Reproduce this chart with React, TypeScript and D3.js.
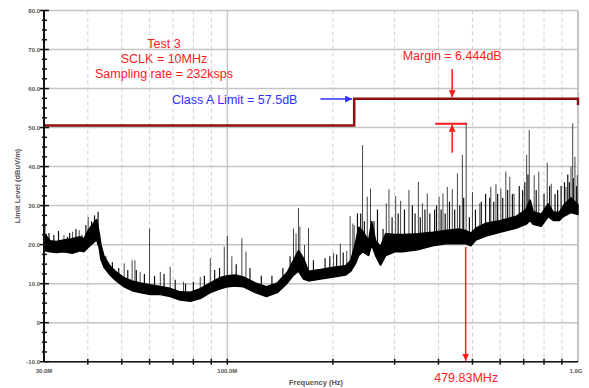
import React, { useRef, useEffect } from "react";
import * as d3 from "d3";

// limit line (MHz, dBuV/m)
const limitFreqs = [30, 230, 230, 1000, 1000];
const limitLevels = [50.5, 50.5, 57.4, 57.4, 55.8];

// noise floor envelope
const bandFreqs = [30, 31.2, 32.5, 34.2, 36.1, 38, 39, 40, 41.1, 42.4, 43.1, 43.6, 44.5, 46.3, 48.2, 50.8, 53.5, 56.4, 60.3, 64.4, 68.7, 73.4, 78.4, 83.7, 89.4, 95.5, 100, 105.4, 111.1, 120.2, 129.2, 138.9, 148.4, 154.4, 159.5, 164.9, 170.4, 184.3, 200.9, 217.3, 225, 232.1, 237, 243, 252.9, 258, 264.7, 273.4, 282.7, 302, 316.2, 349, 385, 419.4, 457, 478.6, 495, 511.4, 546.4, 602.6, 664.6, 710.4, 730, 744.7, 785.2, 822.7, 850.4, 884.9, 908.8, 955, 1000];
const bandLow = [18.5, 18.2, 18, 18.2, 17.8, 18.4, 18.2, 19.2, 20.2, 21.2, 19.2, 16.2, 14.2, 12.2, 10.7, 9.2, 8.2, 7.7, 7.2, 7.2, 6.7, 5.8, 5.5, 6.2, 7.7, 8.7, 9.2, 9.4, 9.2, 7.7, 6.7, 7.7, 10.2, 12.2, 13.2, 11.2, 10.7, 11.2, 11.7, 12.2, 13.2, 15.2, 17.2, 18.2, 17.2, 20, 17.2, 14.7, 17.2, 18.2, 18.2, 18.7, 19.7, 20.2, 20.2, 20.2, 19.7, 21.2, 22.2, 23.2, 24.2, 25.2, 26.2, 25.2, 24.7, 27.2, 26.2, 26.2, 27.2, 28.2, 27.7];
const bandHigh = [23, 21, 20.8, 21.2, 21.5, 22, 21.5, 23.5, 25, 26.5, 23, 20, 17, 14.5, 13, 11.5, 10.7, 10.2, 9.7, 9.3, 8.8, 7.9, 7.8, 8.7, 10.2, 11.6, 12, 12.2, 11.7, 10.2, 9.2, 10.2, 13, 16, 18.5, 16.5, 13.2, 13.6, 14.2, 14.6, 16, 20.5, 24.5, 23.5, 21, 26, 21, 19.5, 22.8, 22.6, 22.6, 22.8, 23.2, 23.6, 24, 23.6, 23, 24.2, 25.5, 26.2, 27.2, 29, 31.5, 28.5, 27.8, 30.5, 28.3, 28.3, 30, 32, 30.2];

// narrow emission spikes (MHz, peak dBuV/m)
const spikeFreqs = [30.2, 34.2, 36.2, 37.8, 40.1, 50.8, 53.5, 54.5, 56.4, 60, 64.4, 68.7, 75, 83.7, 89.4, 98, 100, 103, 110, 113, 154.4, 157, 159.5, 161, 166, 170.4, 200.9, 210, 219, 224, 228, 230, 243, 250.6, 256, 284, 289, 302, 312, 329.5, 350.6, 360, 371.7, 401.7, 412, 424, 438, 453, 468, 479.83, 500, 524.8, 564, 583.5, 602.6, 622.6, 639, 657, 713.7, 726, 750, 773, 817, 839, 924, 955, 965.7, 980, 995];
const spikeTops = [25.4, 22.4, 23.3, 23.7, 27.1, 15.2, 16, 16, 13, 24.1, 13, 14.3, 10.5, 11.7, 16.5, 19.5, 22.2, 17, 21.6, 18.2, 24.1, 22.9, 29.4, 24.6, 19.9, 24.3, 17.9, 20.3, 18.4, 27.3, 25.4, 25, 45.5, 32.3, 34.4, 30.6, 34.2, 32.4, 31.2, 34, 36.1, 30.6, 33.1, 32.3, 33.1, 34.8, 34.2, 38.3, 43, 51.0, 33.5, 30.6, 34.8, 35.5, 34.4, 38.7, 37.4, 33.1, 43, 49.4, 37.8, 38.7, 41, 35.6, 34.8, 40, 51.1, 42.5, 37.8];

// short noise hairs above the floor
const hairFreqs = [31, 32, 33, 35, 35.5, 37, 38.5, 39.5, 41, 41.8, 42.8, 45, 47, 49, 52, 55, 58, 62, 66, 71, 76, 80, 86, 92, 95, 106, 116, 125, 134, 144, 151, 176, 190, 196, 205, 214, 235, 240, 246, 262, 268, 278, 295, 307, 320, 337, 343, 355, 366, 378, 390, 395, 407, 418, 430, 445, 460, 472, 490, 510, 530, 545, 560, 575, 590, 610, 630, 650, 680, 695, 705, 720, 760, 800, 830, 860, 875, 895, 915, 935, 945, 970, 990];
const hairTops = [23, 22.5, 23.5, 22, 23, 24, 22.5, 25, 26, 27.5, 28.4, 17, 15.5, 14, 13.5, 13.5, 12.5, 12, 12.5, 11, 10, 10.5, 12, 13.5, 14, 15, 14, 12, 12, 14, 17, 16, 16.5, 17, 17.5, 18, 28, 28, 26, 26, 29, 24, 27, 28, 29, 30, 28, 27, 29, 28, 29, 30, 29, 28, 31, 29, 30, 32, 27, 29, 31, 33, 32, 31, 33, 32, 34, 33, 35, 34, 36, 38, 34, 33, 35, 33, 34, 35, 36, 38, 36, 37, 35];

const yTicks = [-10, 0, 10, 20, 30, 40, 50, 60, 70, 80];
const yTickLabels = ["-10.0", "0", "10.0", "20.0", "30.0", "40.0", "50.0", "60.0", "70.0", "80.0"];
const xLabelFreqs = [30, 100, 1000];
const xLabels = ["30.0M", "100.0M", "1.0G"];
const minorFreqs = [40, 50, 60, 70, 80, 90, 200, 300, 400, 500, 600, 700, 800, 900];

const peakFreq = 479.83;
const peakLevel = 51.0;
const classALimit = 57.4;

const W = 589;
const H = 388;
const RED = "#ff1a1a";
const BLUE = "#2f2fff";
const FONT = "'Liberation Sans', Arial, sans-serif";

const App = () => {
  const svgRef = useRef<SVGSVGElement>(null);

  useEffect(() => {
    document.body.style.margin = "0";
    const svg = d3.select(svgRef.current);
    svg.selectAll("*").remove();

    const x = d3.scaleLog().domain([30, 1000]).range([44, 578]);
    const y = d3.scaleLinear().domain([-10, 80]).range([361.7, 10.5]);
    const baseAt = d3.scaleLog().domain(bandFreqs).range(bandLow);

    svg.append("rect").attr("width", W).attr("height", H).attr("fill", "#fff");

    // arrow markers
    const defs = svg.append("defs");
    const mk = (id, color) =>
      defs.append("marker")
        .attr("id", id)
        .attr("viewBox", "0 0 10 10")
        .attr("refX", 10).attr("refY", 5)
        .attr("markerWidth", 7).attr("markerHeight", 7)
        .attr("markerUnits", "userSpaceOnUse")
        .attr("orient", "auto")
        .append("path").attr("d", "M0,0L10,5L0,10z").attr("fill", color);
    mk("ar", RED);
    mk("ab", BLUE);

    // grid
    const grid = svg.append("g");
    grid.selectAll("line.mv").data(minorFreqs).join("line")
      .attr("x1", d => x(d)).attr("x2", d => x(d))
      .attr("y1", y(80)).attr("y2", y(-10))
      .attr("stroke", "#d0d0d0").attr("stroke-dasharray", "4,3").attr("stroke-width", 1);
    grid.append("line")
      .attr("x1", x(100)).attr("x2", x(100)).attr("y1", y(80)).attr("y2", y(-10))
      .attr("stroke", "#c8c8c8").attr("stroke-width", 1.5);
    grid.selectAll("line.h").data(yTicks).join("line")
      .attr("x1", x(30)).attr("x2", x(1000))
      .attr("y1", d => y(d)).attr("y2", d => y(d))
      .attr("stroke", "#c4c4c4").attr("stroke-width", 1.5);
    grid.append("line")
      .attr("x1", x(1000)).attr("x2", x(1000)).attr("y1", y(80)).attr("y2", y(-10))
      .attr("stroke", "#c4c4c4").attr("stroke-width", 2);

    // hairs and spikes
    svg.append("g").selectAll("line").data(hairFreqs).join("line")
      .attr("x1", d => x(d)).attr("x2", d => x(d))
      .attr("y1", d => y(baseAt(d)))
      .attr("y2", (d, i) => y(hairTops[i]))
      .attr("stroke", "#111").attr("stroke-width", 1.2);
    svg.append("g").selectAll("line").data(spikeFreqs).join("line")
      .attr("x1", d => x(d)).attr("x2", d => x(d))
      .attr("y1", d => y(baseAt(d)))
      .attr("y2", (d, i) => y(spikeTops[i]))
      .attr("stroke", "#262626").attr("stroke-width", 1).attr("opacity", 0.85);

    // noise band
    const area = d3.area<number>()
      .x(d => x(d))
      .y0((d, i) => y(bandLow[i]))
      .y1((d, i) => y(bandHigh[i]));
    svg.append("path").datum(bandFreqs).attr("d", area)
      .attr("fill", "#000").attr("stroke", "#000").attr("stroke-width", 1.5).attr("stroke-linejoin", "bevel");

    // limit line
    const lim = d3.line<number>().x(d => x(d)).y((d, i) => y(limitLevels[i]));
    svg.append("path").datum(limitFreqs).attr("d", lim)
      .attr("fill", "none").attr("stroke", "#8b1010").attr("stroke-width", 2.5);

    // axes
    const ax = svg.append("g").attr("stroke", "#111");
    ax.append("line").attr("x1", 44).attr("x2", 44).attr("y1", y(80)).attr("y2", y(-10)).attr("stroke-width", 2);
    ax.append("line").attr("x1", 44).attr("x2", x(1000)).attr("y1", y(-10)).attr("y2", y(-10)).attr("stroke-width", 1.5);
    ax.selectAll("line.yt").data(d3.range(-10, 80.1, 2.5)).join("line")
      .attr("x1", d => (d % 10 === 0 ? 40 : 42)).attr("x2", d => (d % 10 === 0 ? 49 : 47))
      .attr("y1", d => y(d)).attr("y2", d => y(d)).attr("stroke-width", 1.5);
    ax.selectAll("line.xt").data(minorFreqs.concat([100])).join("line")
      .attr("x1", d => x(d)).attr("x2", d => x(d))
      .attr("y1", y(-10) - 3).attr("y2", y(-10) + 3).attr("stroke-width", 1.5);

    const lab = svg.append("g").attr("font-family", FONT).attr("font-weight", "bold").attr("fill", "#555");
    lab.selectAll("text.y").data(yTicks).join("text")
      .attr("x", 40).attr("y", d => y(d) + 2.2).attr("text-anchor", "end")
      .attr("font-size", 6).text((d, i) => yTickLabels[i]);
    lab.selectAll("text.x").data(xLabelFreqs).join("text")
      .attr("x", d => x(d) - (d === 1000 ? 2 : 0)).attr("y", 372.5).attr("text-anchor", "middle")
      .attr("font-size", 6).text((d, i) => xLabels[i]);
    lab.append("text").attr("x", 316).attr("y", 384.5).attr("text-anchor", "middle")
      .attr("font-size", 7.5).text("Frequency (Hz)");
    lab.append("text").attr("transform", "translate(20,186) rotate(-90)").attr("text-anchor", "middle")
      .attr("font-size", 7.5).text("Limit Level (dBuV/m)");

    // annotations
    const note = svg.append("g").attr("font-family", FONT);
    note.append("text").attr("x", 164).attr("y", 48).attr("text-anchor", "middle")
      .attr("font-size", 12.5).attr("fill", RED).text("Test 3");
    note.append("text").attr("x", 164).attr("y", 63).attr("text-anchor", "middle")
      .attr("font-size", 12.5).attr("fill", RED).text("SCLK = 10MHz");
    note.append("text").attr("x", 164).attr("y", 77.5).attr("text-anchor", "middle")
      .attr("font-size", 12.5).attr("fill", RED).text("Sampling rate = 232ksps");
    note.append("text").attr("x", 172).attr("y", 103.5)
      .attr("font-size", 12.5).attr("fill", BLUE).text("Class A Limit = 57.5dB");
    note.append("line").attr("x1", 320.5).attr("x2", x(230) - 2).attr("y1", 99).attr("y2", 99)
      .attr("stroke", BLUE).attr("stroke-width", 1.5).attr("marker-end", "url(#ab)");

    const px = x(peakFreq);
    note.append("text").attr("x", px - 14).attr("y", 60).attr("text-anchor", "middle")
      .attr("font-size", 12.5).attr("fill", RED).text("Margin = 6.444dB");
    note.append("line").attr("x1", px - 14).attr("x2", px - 14).attr("y1", 69).attr("y2", y(classALimit) - 1.5)
      .attr("stroke", RED).attr("stroke-width", 1.5).attr("marker-end", "url(#ar)");
    note.append("line").attr("x1", px - 31).attr("x2", px + 1).attr("y1", y(peakLevel)).attr("y2", y(peakLevel))
      .attr("stroke", RED).attr("stroke-width", 2);
    note.append("line").attr("x1", px - 14).attr("x2", px - 14).attr("y1", y(peakLevel) + 29).attr("y2", y(peakLevel) + 1)
      .attr("stroke", RED).attr("stroke-width", 1.5).attr("marker-end", "url(#ar)");
    note.append("line").attr("x1", px - 0.5).attr("x2", px - 0.5).attr("y1", y(baseAt(peakFreq)) + 3).attr("y2", y(-10) - 1)
      .attr("stroke", RED).attr("stroke-width", 1.5).attr("marker-end", "url(#ar)");
    note.append("text").attr("x", px).attr("y", 381.5).attr("text-anchor", "middle")
      .attr("font-size", 12.5).attr("fill", RED).text("479.83MHz");
  }, []);

  return (
    <div style={{ position: "absolute", left: 0, top: 0 }}>
      <svg ref={svgRef} width={W} height={H} style={{ display: "block" }} />
    </div>
  );
};

export default App;
